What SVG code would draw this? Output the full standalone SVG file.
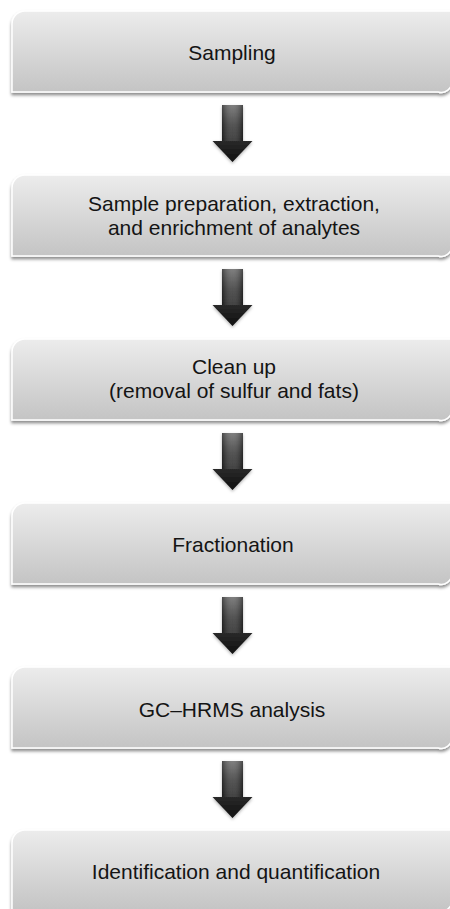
<svg xmlns="http://www.w3.org/2000/svg" xmlns:xlink="http://www.w3.org/1999/xlink" width="450" height="909" viewBox="0 0 450 909">
  <defs>
    <style>
      .box { fill: url(#boxFill); stroke: #ffffff; stroke-width: 1.5; filter: url(#boxShadow); }
      .label { font-family: "Liberation Sans", Arial, sans-serif; font-size: 21px; fill: #141414; text-anchor: middle; }
      .arrow { fill: url(#arrowFill); filter: url(#arrowShadow); }
      .sheen { fill: url(#arrowSheen); }
    </style>
    <linearGradient id="boxFill" x1="0" y1="0" x2="0" y2="1">
      <stop offset="0" stop-color="#ececec"/>
      <stop offset="1" stop-color="#c4c4c4"/>
    </linearGradient>
    <linearGradient id="arrowFill" x1="0" y1="0" x2="0" y2="1">
      <stop offset="0" stop-color="#6e6e6e"/>
      <stop offset="0.35" stop-color="#3c3c3c"/>
      <stop offset="1" stop-color="#101010"/>
    </linearGradient>
    <linearGradient id="arrowSheen" x1="0" y1="0" x2="1" y2="0">
      <stop offset="0" stop-color="#000" stop-opacity="0.35"/>
      <stop offset="0.5" stop-color="#fff" stop-opacity="0.12"/>
      <stop offset="1" stop-color="#000" stop-opacity="0.35"/>
    </linearGradient>
    <filter id="boxShadow" x="-5%" y="-10%" width="110%" height="130%">
      <feDropShadow dx="0" dy="2.5" stdDeviation="1.6" flood-color="#000" flood-opacity="0.45"/>
    </filter>
    <filter id="arrowShadow" x="-30%" y="-10%" width="160%" height="130%">
      <feDropShadow dx="0" dy="1.5" stdDeviation="1.5" flood-color="#000" flood-opacity="0.3"/>
    </filter>
    <!-- box outline: rounded top-left and bottom-right corners, origin at box top -->
    <path id="boxShape" d="M12,13 A13,13 0 0 1 25,0 H452 V70 A11,11 0 0 1 438,81 H12 Z"/>
    <!-- down arrow, origin at the top of the box above -->
    <path id="arrowShape" d="M222,94 H243 V130 H252.5 L232.5,151 L212.5,130 H222 Z"/>
    <path id="shaftShape" d="M222,94 H243 V130 H222 Z"/>
  </defs>

  <g id="connectors">
    <g transform="translate(0,11)"><use xlink:href="#arrowShape" class="arrow"/><use xlink:href="#shaftShape" class="sheen"/></g>
    <g transform="translate(0,175)"><use xlink:href="#arrowShape" class="arrow"/><use xlink:href="#shaftShape" class="sheen"/></g>
    <g transform="translate(0,339)"><use xlink:href="#arrowShape" class="arrow"/><use xlink:href="#shaftShape" class="sheen"/></g>
    <g transform="translate(0,503)"><use xlink:href="#arrowShape" class="arrow"/><use xlink:href="#shaftShape" class="sheen"/></g>
    <g transform="translate(0,667)"><use xlink:href="#arrowShape" class="arrow"/><use xlink:href="#shaftShape" class="sheen"/></g>
  </g>

  <g id="sampling" transform="translate(0,11)">
    <use xlink:href="#boxShape" class="box"/>
    <text class="label" x="232" y="49">Sampling</text>
  </g>

  <g id="preparation" transform="translate(0,175)">
    <use xlink:href="#boxShape" class="box"/>
    <text class="label" x="234" y="36">Sample preparation, extraction,</text>
    <text class="label" x="234" y="60">and enrichment of analytes</text>
  </g>

  <g id="cleanup" transform="translate(0,339)">
    <use xlink:href="#boxShape" class="box"/>
    <text class="label" x="234" y="35">Clean up</text>
    <text class="label" x="234" y="59">(removal of sulfur and fats)</text>
  </g>

  <g id="fractionation" transform="translate(0,503)">
    <use xlink:href="#boxShape" class="box"/>
    <text class="label" x="233" y="49">Fractionation</text>
  </g>

  <g id="analysis" transform="translate(0,667)">
    <use xlink:href="#boxShape" class="box"/>
    <text class="label" x="232" y="50">GC–HRMS analysis</text>
  </g>

  <g id="identification" transform="translate(0,830)">
    <use xlink:href="#boxShape" class="box"/>
    <text class="label" x="236" y="49">Identification and quantification</text>
  </g>
</svg>
